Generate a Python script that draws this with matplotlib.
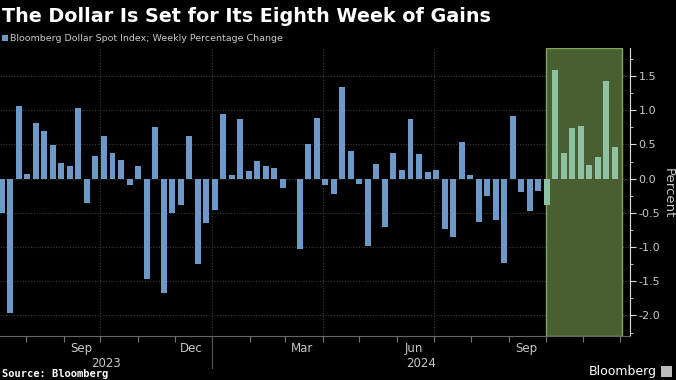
import numpy as np
import pandas as pd
import matplotlib
matplotlib.use("Agg")
import matplotlib.pyplot as plt
import matplotlib.dates as mdates
import matplotlib.transforms as mtransforms
from matplotlib.lines import Line2D
from matplotlib.patches import Rectangle

# ---- data -------------------------------------------------------------
weeks = pd.date_range("2023-07-12", periods=73, freq="7D")
changes = [-0.50, -1.97, 1.06, 0.07, 0.82, 0.69, 0.49, 0.23, 0.18, 1.03,
           -0.36, 0.33, 0.62, 0.37, 0.27, -0.10, 0.19, -1.46, 0.75, -1.67,
           -0.50, -0.39, 0.63, -1.25, -0.65, -0.46, 0.94, 0.05, 0.87, 0.11,
           0.26, 0.18, 0.16, -0.14, -0.01, -1.03, 0.51, 0.88, -0.09, -0.22,
           1.34, 0.40, -0.08, -0.98, 0.21, -0.70, 0.38, 0.13, 0.87, 0.36,
           0.10, 0.12, -0.73, -0.85, 0.54, 0.06, -0.63, -0.26, -0.60, -1.24,
           0.92, -0.20, -0.47, -0.18, -0.39, 1.58, 0.37, 0.74, 0.77, 0.20,
           0.31, 1.43, 0.46]
highlight_start = pd.Timestamp("2024-10-01")
highlight_end = pd.Timestamp("2024-12-03 05:00")
month_labels = ["2023-09-15", "2023-12-15", "2024-03-15", "2024-06-15", "2024-09-15"]
quarter_lines = ["2023-10-01", "2024-01-01", "2024-04-01", "2024-07-01", "2024-10-01"]
year_labels = ["2023", "2024"]
y_ticks = [-2.0, -1.5, -1.0, -0.5, 0.0, 0.5, 1.0, 1.5]

# ---- style ------------------------------------------------------------
bg = "#000000"
blue = "#6d99c9"
mint = "#8fc2a2"
grey_txt = "#c8c8c8"
grid_c = "#3a3a3a"

x_left = pd.Timestamp("2023-07-10 12:00")
x_right = pd.Timestamp("2024-12-09 12:00")

fig = plt.figure(figsize=(6.76, 3.8), dpi=100, facecolor=bg)
ax = fig.add_axes([0.0, 0.1158, 0.932, 0.759], facecolor=bg)

# highlight box (behind the bars)
ax.axvspan(highlight_start, highlight_end, facecolor="#4a5f31",
           edgecolor="#7fa35c", linewidth=1.0, zorder=1)

colors = [mint if d >= highlight_start else blue for d in weeks]
ax.bar(weeks, changes, width=4.9, color=colors, zorder=3)

# grid
for yv in y_ticks:
    ax.axhline(yv, color=grid_c, lw=0.8, ls=(0, (1, 1.5)), zorder=0)
for q in quarter_lines:
    ax.axvline(pd.Timestamp(q), color=grid_c, lw=0.8, ls=(0, (1, 1.5)), zorder=0)

ax.set_xlim(x_left, x_right)
ax.set_ylim(-2.30, 1.915)

# x axis
ax.set_xticks([pd.Timestamp(m) for m in month_labels])
ax.xaxis.set_major_formatter(mdates.DateFormatter("%b"))
ax.tick_params(axis="x", which="major", length=0, pad=4, labelsize=8.5,
               labelcolor=grey_txt)
ax.xaxis.set_minor_locator(mdates.MonthLocator())
ax.tick_params(axis="x", which="minor", length=4, color="#777777", width=0.8)

# year labels and divider
trans = mtransforms.blended_transform_factory(ax.transData, ax.transAxes)
jan = pd.Timestamp("2024-01-01")
ax.text(x_left + (jan - x_left) / 2, -0.094, year_labels[0], transform=trans,
        ha="center", va="center", color=grey_txt, fontsize=8.5)
ax.text(jan + (x_right - jan) / 2, -0.094, year_labels[1], transform=trans,
        ha="center", va="center", color=grey_txt, fontsize=8.5)
ax.add_line(Line2D([jan, jan], [0, -0.11], transform=trans, color="#555555",
                   lw=0.8, clip_on=False))

# y axis on the right
ax.yaxis.tick_right()
ax.set_yticks(y_ticks)
ax.set_yticklabels([f"{v:.1f}" for v in y_ticks])
ax.set_yticks(np.arange(-2.25, 1.9, 0.25), minor=True)
ax.tick_params(axis="y", which="major", length=4, color="#dddddd",
               labelsize=8, labelcolor=grey_txt, pad=2)
ax.tick_params(axis="y", which="minor", length=2, color="#dddddd")
fig.text(0.988, 0.492, "Percent", rotation=270, color=grey_txt, fontsize=9.5,
         ha="center", va="center")

for s in ["left", "top"]:
    ax.spines[s].set_visible(False)
ax.spines["right"].set_color("#dddddd")
ax.spines["bottom"].set_color("#666666")
ax.spines["bottom"].set_linewidth(0.8)

# ---- texts ------------------------------------------------------------
fig.text(0.003, 0.942, "The Dollar Is Set for Its Eighth Week of Gains",
         color="white", fontsize=13.8, fontweight="bold", va="baseline")
fig.patches.append(Rectangle((0.003, 0.893), 0.009, 0.016, transform=fig.transFigure,
                             facecolor=blue, edgecolor="none"))
fig.text(0.015, 0.892, "Bloomberg Dollar Spot Index; Weekly Percentage Change",
         color=grey_txt, fontsize=6.8, va="baseline")
fig.text(0.003, 0.008, "Source: Bloomberg", color="white", fontsize=7.5,
         fontweight="bold", family="DejaVu Sans Mono", va="baseline")
fig.text(0.972, 0.022, "Bloomberg", color="white", fontsize=9, ha="right",
         va="center")
fig.patches.append(Rectangle((0.978, 0.008), 0.016, 0.028, transform=fig.transFigure,
                             facecolor="#bbbbbb", edgecolor="none"))

fig.savefig("out.png", dpi=100, facecolor=bg)
